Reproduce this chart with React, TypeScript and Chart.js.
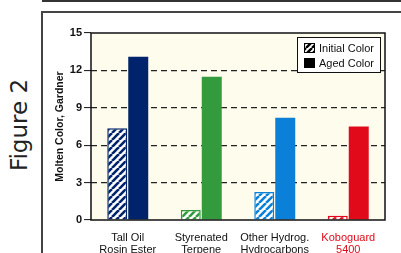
import React, { useEffect, useRef } from "react";
import { Chart, registerables } from "chart.js";

Chart.register(...registerables);

const categories: string[][] = [
  ["Tall Oil", "Rosin Ester"],
  ["Styrenated", "Terpene"],
  ["Other Hydrog.", "Hydrocarbons"],
  ["Koboguard", "5400"],
];
const initialColor: number[] = [7.35, 0.8, 2.25, 0.35];
const agedColor: number[] = [13.1, 11.5, 8.2, 7.5];
const seriesNames: string[] = ["Initial Color", "Aged Color"];
const barColors: string[] = ["#00236B", "#339B3E", "#0B80D9", "#E10A1B"];
const labelColors: string[] = ["#111111", "#111111", "#111111", "#E10A1B"];
const yTitle = "Molten Color, Gardner";

const NARROW = "'Liberation Sans Narrow', 'Arial Narrow', 'Liberation Sans', Arial, sans-serif";
const SANS = "'Liberation Sans', Arial, sans-serif";

function makeHatch(ctx: CanvasRenderingContext2D, color: string, s = 7, w = 2.6) {
  const c = document.createElement("canvas");
  c.width = s;
  c.height = s;
  const x = c.getContext("2d")!;
  x.fillStyle = "#ffffff";
  x.fillRect(0, 0, s, s);
  x.strokeStyle = color;
  x.lineWidth = w;
  x.beginPath();
  for (const k of [-s, 0, s]) {
    x.moveTo(k, s);
    x.lineTo(k + s, 0);
  }
  x.stroke();
  return ctx.createPattern(c, "repeat")!;
}

const framePlugin = {
  id: "framePlugin",
  beforeDraw(chart: any) {
    const { ctx, chartArea: a } = chart;
    ctx.save();
    ctx.fillStyle = "#FEFCEC";
    ctx.fillRect(a.left, a.top, a.right - a.left, a.bottom - a.top);
    ctx.restore();
  },
  afterDraw(chart: any) {
    const { ctx, chartArea: a } = chart;
    ctx.save();
    ctx.strokeStyle = "#111";
    ctx.lineWidth = 1.5;
    ctx.strokeRect(a.left, a.top, a.right - a.left, a.bottom - a.top);

    // legend
    const lx = 297.5, ly = 37.5, lw = 83, lh = 35;
    ctx.fillStyle = "#ffffff";
    ctx.fillRect(lx, ly, lw, lh);
    ctx.lineWidth = 1;
    ctx.strokeStyle = "#111";
    ctx.strokeRect(lx, ly, lw, lh);
    const hatch = makeHatch(ctx, "#000000", 6, 2.4);
    ctx.fillStyle = hatch;
    ctx.fillRect(304, 43, 11, 10);
    ctx.strokeStyle = "#000";
    ctx.strokeRect(304.5, 43.5, 10, 9);
    ctx.fillStyle = "#000";
    ctx.fillRect(304, 58, 11, 10);
    ctx.font = `11px ${SANS}`;
    ctx.fillStyle = "#111";
    ctx.textBaseline = "middle";
    ctx.textAlign = "left";
    ctx.fillText(seriesNames[0], 319, 48.5);
    ctx.fillText(seriesNames[1], 319, 63.5);
    ctx.restore();
  },
};

export default function App() {
  const ref = useRef<HTMLCanvasElement>(null);
  useEffect(() => {
    const canvas = ref.current!;
    const ctx = canvas.getContext("2d")!;
    const hatches = barColors.map((c) => makeHatch(ctx, c));
    const chart = new Chart(canvas, {
      type: "bar",
      data: {
        labels: categories,
        datasets: [
          {
            label: seriesNames[0],
            data: initialColor,
            backgroundColor: hatches as any,
            borderColor: barColors,
            borderWidth: 1.5,
            barPercentage: 0.952,
            categoryPercentage: 0.571,
          },
          {
            label: seriesNames[1],
            data: agedColor,
            backgroundColor: barColors,
            borderWidth: 0,
            barPercentage: 0.952,
            categoryPercentage: 0.571,
          },
        ],
      },
      options: {
        responsive: false,
        animation: false,
        devicePixelRatio: 1,
        layout: { padding: { left: 43, top: 33, right: 16, bottom: 0 } },
        plugins: { legend: { display: false }, tooltip: { enabled: false } },
        scales: {
          x: {
            grid: { display: false },
            border: { display: false },
            ticks: {
              font: { family: SANS, size: 11, lineHeight: 1.1 },
              color: (c: any) => labelColors[c.index] || "#111",
              padding: 4,
              maxRotation: 0,
              autoSkip: false,
            },
            afterFit: (s: any) => {
              s.height = 33;
            },
          },
          y: {
            min: 0,
            max: 15,
            ticks: {
              stepSize: 3,
              font: { family: NARROW, size: 11, weight: "bold" },
              color: "#111",
              padding: 2,
            },
            grid: {
              color: (c: any) =>
                c.tick && (c.tick.value === 0 || c.tick.value === 15) ? "rgba(0,0,0,0)" : "#222",
              lineWidth: 1.2,
              tickColor: "#111",
              tickLength: 7,
              tickWidth: 1,
            },
            border: { display: false, dash: [6, 4] },
            title: {
              display: true,
              text: yTitle,
              font: { family: NARROW, size: 10.5, weight: "bold" },
              color: "#111",
              padding: { top: 11, bottom: 0 },
            },
            afterFit: (s: any) => {
              s.width = 48;
            },
          },
        },
      },
      plugins: [framePlugin],
    });
    return () => chart.destroy();
  }, []);

  return (
    <div
      style={{
        position: "fixed",
        left: 0,
        top: 0,
        width: 401,
        height: 253,
        background: "#ffffff",
        overflow: "hidden",
      }}
    >
      <div style={{ position: "absolute", left: 42, top: 0, width: 359, height: 2, background: "#333" }} />
      <div
        style={{
          position: "absolute",
          left: 41,
          top: 11,
          width: 370,
          height: 260,
          borderTop: "2px solid #444",
          borderLeft: "2px solid #444",
        }}
      />
      <div
        style={{
          position: "absolute",
          left: 19,
          top: 125,
          transform: "translate(-50%, -50%) rotate(-90deg)",
          fontFamily: "'DejaVu Sans', sans-serif",
          fontSize: 23,
          color: "#222",
          whiteSpace: "nowrap",
          lineHeight: 1,
        }}
      >
        Figure 2
      </div>
      <canvas ref={ref} width={401} height={253} style={{ position: "absolute", left: 0, top: 0, display: "block" }} />
    </div>
  );
}
